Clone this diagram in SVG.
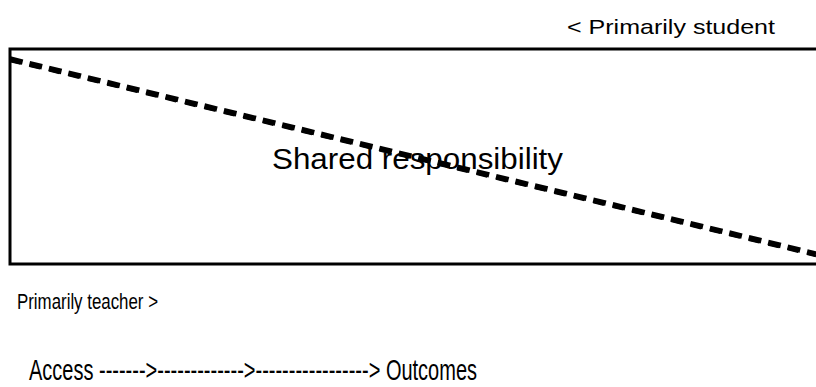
<svg xmlns="http://www.w3.org/2000/svg" width="816" height="387" viewBox="0 0 816 387">
  <style>
    .lbl { font-family: "Liberation Sans", Arial, sans-serif; fill: #000; }
    .frame { fill: none; stroke: #000; stroke-width: 3; }
    .split-a { stroke: #000; stroke-width: 5.5; stroke-dasharray: 13 7; fill: none; }
    .split-b { stroke: #000; stroke-width: 2.5; stroke-dasharray: 11 9; fill: none; }
  </style>
  <rect width="816" height="387" fill="#fff"/>

  <!-- responsibility band -->
  <g id="band">
    <rect class="frame" x="10" y="49" width="830" height="215"/>
  </g>

  <!-- diagonal split between teacher and student share -->
  <g id="connectors">
    <line class="split-a" x1="10" y1="59" x2="816" y2="254"/>
    <line class="split-b" x1="10" y1="61" x2="816" y2="256"/>
  </g>

  <g id="student-label">
    <text class="lbl" x="567" y="34" font-size="21" textLength="208" lengthAdjust="spacingAndGlyphs">&lt; Primarily student</text>
  </g>
  <g id="shared-label">
    <text class="lbl" x="272" y="169" font-size="29" textLength="291" lengthAdjust="spacingAndGlyphs">Shared responsibility</text>
  </g>
  <g id="teacher-label">
    <text class="lbl" x="17" y="309" font-size="22" textLength="141" lengthAdjust="spacingAndGlyphs">Primarily teacher &gt;</text>
  </g>
  <g id="progression">
    <text class="lbl" x="29" y="380" font-size="29" textLength="448" lengthAdjust="spacingAndGlyphs">Access -------&gt;-------------&gt;-----------------&gt; Outcomes</text>
  </g>
</svg>
